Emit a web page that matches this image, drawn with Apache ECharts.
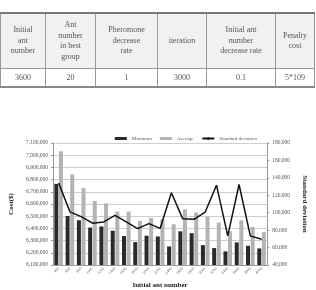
<!DOCTYPE html>
<html>
<head>
<meta charset="utf-8">
<script src="https://cdn.jsdelivr.net/npm/echarts@6/dist/echarts.min.js"></script>
<style>
  html, body { margin: 0; padding: 0; background: #fff; }
  #wrap { position: relative; width: 316px; height: 290px; overflow: hidden; }
  #main { position: absolute; left: 0; top: 0; width: 316px; height: 290px; }
  table {
    position: absolute; left: 0; top: 12px; width: 315px;
    border-collapse: collapse; font-family: "Liberation Serif", "DejaVu Serif", serif;
    font-size: 8px; color: #555; text-align: center; z-index: 2;
  }
  th, td { border: 1px solid #999; padding: 0 2px; font-weight: normal; }
  tr.head th { background: #f1f1f1; height: 54px; line-height: 10.5px; border-top: 2px solid #777; }
  tr.row td { height: 17px; border-bottom: 2px solid #888; }
</style>
</head>
<body>
<div id="wrap">
  <table>
    <tr class="head">
      <th style="width:40px">Initial<br>ant<br>number</th>
      <th style="width:45px">Ant<br>number<br>in best<br>group</th>
      <th style="width:57px">Pheromone<br>decrease<br>rate</th>
      <th style="width:44px">iteration</th>
      <th style="width:64px">Initial ant<br>number<br>decrease rate</th>
      <th>Penalty<br>cost</th>
    </tr>
    <tr class="row">
      <td>3600</td><td>20</td><td>1</td><td>3000</td><td>0.1</td><td>5*109</td>
    </tr>
  </table>
  <div id="main"></div>
</div>
<script>
// 横坐标：初始蚂蚁数
var antNumbers = ['400', '600', '800', '1000', '1200', '1400', '1600', '1800', '2000', '2200',
  '2400', '2600', '2800', '3000', '3200', '3400', '3600', '3800', '4000'];
// 最小成本
var minimumCost = [6765000, 6502000, 6467000, 6407000, 6416000, 6381000, 6337000, 6288000, 6340000, 6334000,
  6252000, 6376000, 6361000, 6263000, 6239000, 6212000, 6285000, 6257000, 6236000];
// 平均成本
var averageCost = [7032000, 6842000, 6730000, 6624000, 6605000, 6538000, 6538000, 6461000, 6486000, 6475000,
  6434000, 6556000, 6530000, 6497000, 6448000, 6377000, 6467000, 6412000, 6369000];
// 标准差
var stdDeviation = [134000, 101000, 95500, 88000, 89400, 97000, 89400, 81800, 87500, 82000,
  122900, 93200, 92400, 100800, 131600, 73400, 132400, 73400, 69600];

var serif = '"Liberation Serif", "DejaVu Serif", serif';
var myChart = echarts.init(document.getElementById('main'));

var option = {
  animation: false,
  textStyle: { fontFamily: serif },
  legend: {
    right: 54,
    top: 131,
    itemWidth: 12,
    itemHeight: 3,
    itemGap: 8,
    textStyle: { fontSize: 5, color: '#555', fontFamily: serif },
    data: [
      { name: 'Minimum', icon: 'rect' },
      { name: 'Average', icon: 'rect' },
      { name: 'Standard deviation' }
    ]
  },
  grid: { left: 50, right: 45, top: 143, bottom: 24 },
  xAxis: {
    type: 'category',
    data: antNumbers,
    name: 'Initial ant number',
    nameLocation: 'middle',
    nameGap: 17,
    nameTextStyle: { fontSize: 7, fontWeight: 'bold', color: '#222', fontFamily: serif },
    axisLine: { lineStyle: { color: '#999' } },
    axisTick: { lineStyle: { color: '#999' }, length: 2 },
    axisLabel: { rotate: 45, fontSize: 4, color: '#666', margin: 3, interval: 0 }
  },
  yAxis: [
    {
      type: 'value',
      min: 6100000,
      max: 7100000,
      interval: 100000,
      name: 'Cost($)',
      nameLocation: 'middle',
      nameGap: 38,
      nameTextStyle: { fontSize: 7, fontWeight: 'bold', color: '#222', fontFamily: serif },
      axisLine: { show: true, lineStyle: { color: '#999' } },
      axisTick: { show: true, length: 2, lineStyle: { color: '#999' } },
      axisLabel: {
        fontSize: 5.5, color: '#555', margin: 5,
        formatter: function (v) { return v.toLocaleString('en-US'); }
      },
      splitLine: { lineStyle: { color: '#cfcfcf', width: 1 } }
    },
    {
      type: 'value',
      min: 40000,
      max: 180000,
      interval: 20000,
      alignTicks: false,
      name: 'Standard deviation',
      nameLocation: 'middle',
      nameGap: 30,
      nameRotate: -90,
      nameTextStyle: { fontSize: 7, fontWeight: 'bold', color: '#222', fontFamily: serif },
      axisLine: { show: true, lineStyle: { color: '#999' } },
      axisTick: { show: true, length: 2, lineStyle: { color: '#999' } },
      axisLabel: {
        fontSize: 5.5, color: '#555', margin: 5,
        formatter: function (v) { return v.toLocaleString('en-US'); }
      },
      splitLine: { show: false }
    }
  ],
  series: [
    {
      name: 'Minimum',
      type: 'bar',
      data: minimumCost,
      barWidth: 4,
      barGap: '15%',
      itemStyle: { color: '#2a2a2a' }
    },
    {
      name: 'Average',
      type: 'bar',
      data: averageCost,
      barWidth: 4,
      itemStyle: { color: '#b3b3b3' }
    },
    {
      name: 'Standard deviation',
      type: 'line',
      yAxisIndex: 1,
      data: stdDeviation,
      symbol: 'none',
      z: 5,
      lineStyle: { color: '#111', width: 1.5 },
      itemStyle: { color: '#111' }
    }
  ]
};

myChart.setOption(option);
</script>
</body>
</html>
